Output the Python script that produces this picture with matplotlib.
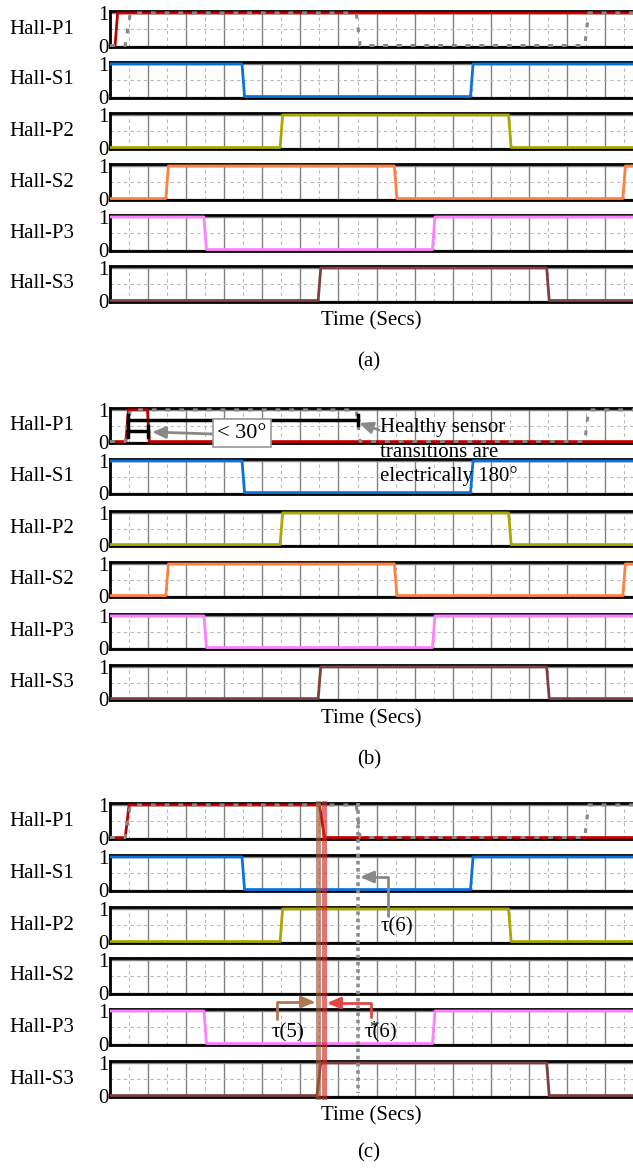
import numpy as np
import matplotlib.pyplot as plt
from matplotlib import transforms
from matplotlib.lines import Line2D
from matplotlib.patches import FancyArrowPatch

plt.rcParams['font.family'] = ['Liberation Serif', 'DejaVu Serif']

# ---- data (x in electrical degrees, one grid division = 30 deg) ----
row_names = ['Hall-P1', 'Hall-S1', 'Hall-P2', 'Hall-S2', 'Hall-P3', 'Hall-S3']
row_colors = ['#C00000', '#0A72DC', '#A8A800', '#FF8040', '#FF80FF', '#7F3F3F']

# healthy reference for P1 (grey dotted)
p1_ref_t = [0, 12, 16, 194, 197, 374, 377, 412]
p1_ref_v = [0, 0, 1, 1, 0, 0, 1, 1]

a_p1_t = [0, 4, 6, 412]
a_p1_v = [0, 0, 1, 1]
b_p1_t = [0, 12.5, 14.5, 29.5, 31, 412]
b_p1_v = [0, 0, 1, 1, 0, 0]
c_p1_t = [0, 12, 15, 165, 169, 412]
c_p1_v = [0, 0, 1, 1, 0, 0]

s1_t = [0, 104, 106, 284, 286, 412]
s1_v = [1, 1, 0, 0, 1, 1]
p2_t = [0, 134, 136, 314, 316, 412]
p2_v = [0, 0, 1, 1, 0, 0]
s2_t = [0, 44, 46, 224, 226, 404, 406, 412]
s2_v = [0, 0, 1, 1, 0, 0, 1, 1]
p3_t = [0, 74, 76, 254, 256, 412]
p3_v = [1, 1, 0, 0, 1, 1]
s3_t = [0, 164, 166, 344, 346, 412]
s3_v = [0, 0, 1, 1, 0, 0]
c_s3_t = [0, 163, 166, 344, 346, 412]

# event instants in (c)
tau5 = 164
tau6_star = 168.5
tau6 = 195

# pulse markers in (b)
pulse_start, pulse_end, healthy_edge = 14, 30, 195

# ---- layout (pixels) ----
W, H = 633, 1171
X0, X1 = 110, 633
XMAX = 412
panel_tops = {
    'a': [11, 62, 113, 164, 215, 266],
    'b': [408, 459, 511, 562, 614, 665],
    'c': [803, 855, 907, 958, 1009, 1061],
}
row_h = {'a': 36, 'b': 35, 'c': 36}
letter_y = {'a': 362, 'b': 760, 'c': 1153}

signals = {
    'a': [(a_p1_t, a_p1_v), (s1_t, s1_v), (p2_t, p2_v), (s2_t, s2_v), (p3_t, p3_v), (s3_t, s3_v)],
    'b': [(b_p1_t, b_p1_v), (s1_t, s1_v), (p2_t, p2_v), (s2_t, s2_v), (p3_t, p3_v), (s3_t, s3_v)],
    'c': [(c_p1_t, c_p1_v), (s1_t, s1_v), (p2_t, p2_v), None, (p3_t, p3_v), (c_s3_t, s3_v)],
}


def fpx(x, y):
    return (x / W, 1 - y / H)


def style_ax(ax, name):
    ax.set_xlim(0, XMAX)
    ax.set_ylim(-0.045, 1.06)
    ax.set_xticks(np.arange(0, XMAX + 1, 30))
    ax.set_xticks(np.arange(15, XMAX + 1, 30), minor=True)
    ax.set_yticks([0, 1])
    ax.set_yticks([0.5], minor=True)
    ax.set_yticklabels(['0', '1'], fontsize=15)
    ax.grid(which='major', color='#808080', lw=1.0, ls='-')
    ax.grid(which='minor', color='#b8b8b8', lw=0.8, ls=(0, (3, 3)))
    ax.set_axisbelow(True)
    ax.tick_params(which='both', length=0, labelbottom=False)
    ax.tick_params(axis='y', pad=1)
    for s in ['top', 'bottom', 'left']:
        ax.spines[s].set_linewidth(2)
        ax.spines[s].set_color('black')
    ax.spines['right'].set_visible(False)
    ax.set_ylabel(name, rotation=0, fontsize=15, ha='center', va='center')
    ax.yaxis.set_label_coords(-68 / (X1 - X0), 0.5)


fig = plt.figure(figsize=(W / 100, H / 100), dpi=100)
panel_axes = {}

for key in 'abc':
    axes = []
    h = row_h[key]
    for i, (top, name) in enumerate(zip(panel_tops[key], row_names)):
        ax = fig.add_axes([X0 / W, 1 - (top + h) / H, (X1 - X0) / W, h / H])
        style_ax(ax, name)
        sig = signals[key][i]
        if sig is not None:
            ax.plot(sig[0], sig[1], color=row_colors[i], lw=2.0, zorder=3)
        if i == 0:
            ax.plot(p1_ref_t, p1_ref_v, color='#888888', lw=2.2,
                    ls=(0, (1.6, 2.9)), zorder=4)
        axes.append(ax)
    axes[-1].set_xlabel('Time (Secs)', fontsize=15, labelpad=7)
    fig.text(369 / W, 1 - letter_y[key] / H, '(%s)' % key, fontsize=15,
             ha='center', va='center')
    panel_axes[key] = axes


def arrow(p_start, p_end, color, conn='arc3'):
    fig.add_artist(FancyArrowPatch(fpx(*p_start), fpx(*p_end),
                                   transform=fig.transFigure,
                                   arrowstyle='-|>,head_length=0.8,head_width=0.35',
                                   mutation_scale=10, color=color, lw=2,
                                   shrinkA=0, shrinkB=0, connectionstyle=conn))


# ---- (b) annotations ----
axb = panel_axes['b'][0]
kw = dict(color='black', lw=2.5, clip_on=False, zorder=5)
axb.plot([pulse_start, healthy_edge], [0.68, 0.68], **kw)
axb.plot([pulse_start, pulse_start], [0.16, 0.84], **kw)
axb.plot([healthy_edge, healthy_edge], [0.53, 0.83], **kw)
axb.plot([pulse_start, pulse_end], [0.33, 0.33], **kw)
axb.plot([pulse_end, pulse_end], [0.16, 0.5], **kw)

fig.text(*fpx(242, 433), '< 30°', fontsize=16, ha='center', va='center',
         bbox=dict(boxstyle='square,pad=0.2', fc='white', ec='#999999', lw=1.2))
arrow((213, 434), (152, 432), '#888888')
arrow((379, 430), (359, 423), '#888888')
for txt, yb in zip(['Healthy sensor', 'transitions are', 'electrically 180°'],
                   [432.5, 457, 481.5]):
    fig.text(*fpx(380, yb), txt, fontsize=15, ha='left', va='baseline')

# ---- (c) annotations ----
axc = panel_axes['c'][0]
trans = transforms.blended_transform_factory(axc.transData, fig.transFigure)
yt, yb_ = 1 - 803 / H, 1 - 1097 / H
fig.add_artist(Line2D([tau5, tau5], [yt, yb_], transform=trans,
                      color='#9C5B33', alpha=0.65, lw=3.6))
fig.add_artist(Line2D([tau6_star, tau6_star], [yt, yb_], transform=trans,
                      color='#D62828', alpha=0.65, lw=3.6))
fig.add_artist(Line2D([tau6, tau6], [yt, 1 - 1093 / H], transform=trans,
                      color='#8C8C8C', lw=2.6, ls=(0, (1, 1))))

arrow((388, 916), (360, 877), '#888888', 'angle,angleA=90,angleB=0,rad=0')
fig.text(*fpx(397, 927), 'τ(6)', fontsize=15, ha='center', va='center')
arrow((277, 1019), (315, 1002), '#B07850', 'angle,angleA=90,angleB=0,rad=0')
fig.text(*fpx(288, 1033), 'τ(5)', fontsize=15, ha='center', va='center')
arrow((371, 1017), (327, 1003), '#E04848', 'angle,angleA=90,angleB=0,rad=0')
fig.text(*fpx(381, 1033), 'τ(6)', fontsize=15, ha='center', va='center')
fig.text(*fpx(373, 1028), '*', fontsize=12, ha='center', va='center')

fig.savefig('out.png', dpi=100)
